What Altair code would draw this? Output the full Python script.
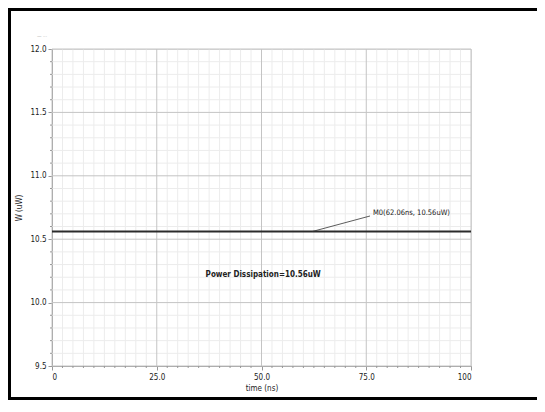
import altair as alt
import pandas as pd

# ---- data ----
time_ns = [0, 100]
power_uw = [10.56, 10.56]

marker_time = [62.06, 75.9]
marker_power = [10.56, 10.683]
marker_label = "M0(62.06ns, 10.56uW)"
marker_label_pos = (76.6, 10.707)

note_text = "Power Dissipation=10.56uW"
note_pos = (50.4, 10.218)

x_major = [0, 25, 50, 75, 100]
x_minor = [i * 2.5 for i in range(41) if (i * 2.5) % 25 != 0]
y_major = [9.5, 10.0, 10.5, 11.0, 11.5, 12.0]
y_minor = [round(9.5 + i * 0.1, 1) for i in range(26) if i % 5 != 0]

FONT = "DejaVu Sans Condensed"
W, H = 419, 317
xs = alt.Scale(domain=[0, 100], nice=False, zero=False)
ys = alt.Scale(domain=[9.5, 12.0], nice=False, zero=False)

label_expr = "datum.value == 0 ? '0' : datum.value == 100 ? '100' : format(datum.value, '.1f')"

# minor grid
xminor = alt.Chart(pd.DataFrame({"t": x_minor})).mark_rule(color="#ececec", strokeWidth=1).encode(
    x=alt.X("t:Q", scale=xs))
yminor = alt.Chart(pd.DataFrame({"p": y_minor})).mark_rule(color="#ececec", strokeWidth=1).encode(
    y=alt.Y("p:Q", scale=ys))
# minor ticks on axes
xmtick = alt.Chart(pd.DataFrame({"t": x_minor})).mark_rule(color="#999", strokeWidth=1).encode(
    x=alt.X("t:Q", scale=xs), y=alt.value(H), y2=alt.value(H + 2))
ymtick = alt.Chart(pd.DataFrame({"p": y_minor})).mark_rule(color="#999", strokeWidth=1).encode(
    y=alt.Y("p:Q", scale=ys), x=alt.value(-2), x2=alt.value(0))
# major grid
xmajor = alt.Chart(pd.DataFrame({"t": x_major})).mark_rule(color="#c4c4c4", strokeWidth=1).encode(
    x=alt.X("t:Q", scale=xs))
ymajor = alt.Chart(pd.DataFrame({"p": y_major})).mark_rule(color="#c4c4c4", strokeWidth=1).encode(
    y=alt.Y("p:Q", scale=ys))

line = alt.Chart(pd.DataFrame({"t": time_ns, "p": power_uw})).mark_line(
    color="#2b2b2b", strokeWidth=2).encode(
    x=alt.X("t:Q", scale=xs,
            axis=alt.Axis(title="time (ns)", values=x_major, labelExpr=label_expr,
                          grid=False, tickSize=4, tickColor="#999", domainColor="#999",
                          labelFont=FONT, labelFontSize=8, labelColor="#222",
                          titleFont=FONT, titleFontSize=8, titleFontWeight="normal",
                          titleColor="#222", labelPadding=3, titlePadding=3)),
    y=alt.Y("p:Q", scale=ys,
            axis=alt.Axis(title="W (uW)", values=y_major, format=".1f",
                          grid=False, tickSize=4, tickColor="#999", domainColor="#999",
                          labelFont=FONT, labelFontSize=8, labelColor="#222",
                          titleFont=FONT, titleFontSize=8, titleFontWeight="normal",
                          titleColor="#222", labelPadding=2, titlePadding=6)),
)

marker_line = alt.Chart(pd.DataFrame({"t": marker_time, "p": marker_power})).mark_line(
    color="#333", strokeWidth=0.8).encode(x=alt.X("t:Q", scale=xs), y=alt.Y("p:Q", scale=ys))

marker_txt = alt.Chart(pd.DataFrame({"t": [marker_label_pos[0]], "p": [marker_label_pos[1]],
                                     "s": [marker_label]})).mark_text(
    align="left", baseline="middle", font=FONT, fontSize=7.5, color="#222").encode(
    x=alt.X("t:Q", scale=xs), y=alt.Y("p:Q", scale=ys), text="s:N")

note = alt.Chart(pd.DataFrame({"t": [note_pos[0]], "p": [note_pos[1]], "s": [note_text]})).mark_text(
    align="center", baseline="middle", font=FONT, fontSize=8, fontWeight="bold", color="#222").encode(
    x=alt.X("t:Q", scale=xs), y=alt.Y("p:Q", scale=ys), text="s:N")

faint = alt.Chart(pd.DataFrame({"s": ["— ···"]})).mark_text(
    align="left", baseline="middle", font=FONT, fontSize=5, color="#aaa").encode(
    x=alt.value(-15), y=alt.value(-13), text="s:N")

# outer frame as thin filled bars: top, left and bottom (right edge is cropped in the reference)
one = alt.Data(values=[{}])
top_b = alt.Chart(one).mark_rect(color="black", strokeWidth=0).encode(
    x=alt.value(-44), x2=alt.value(485), y=alt.value(-41), y2=alt.value(-38))
left_b = alt.Chart(one).mark_rect(color="black", strokeWidth=0).encode(
    x=alt.value(-44), x2=alt.value(-41), y=alt.value(-41), y2=alt.value(351))
bot_b = alt.Chart(one).mark_rect(color="black", strokeWidth=0).encode(
    x=alt.value(-44), x2=alt.value(485), y=alt.value(348), y2=alt.value(351))

chart = alt.layer(
    xminor, yminor, xmajor, ymajor, xmtick, ymtick, line, marker_line, marker_txt, note,
    faint, top_b, left_b, bot_b
).properties(
    width=W, height=H,
    autosize=alt.AutoSizeParams(type="none"),
    padding={"left": 44, "top": 41, "right": 66, "bottom": 34},
).configure_view(stroke="#aaa", strokeWidth=1).configure(background="white")

chart.save("out.html", embed_options={"renderer": "svg", "actions": False})
